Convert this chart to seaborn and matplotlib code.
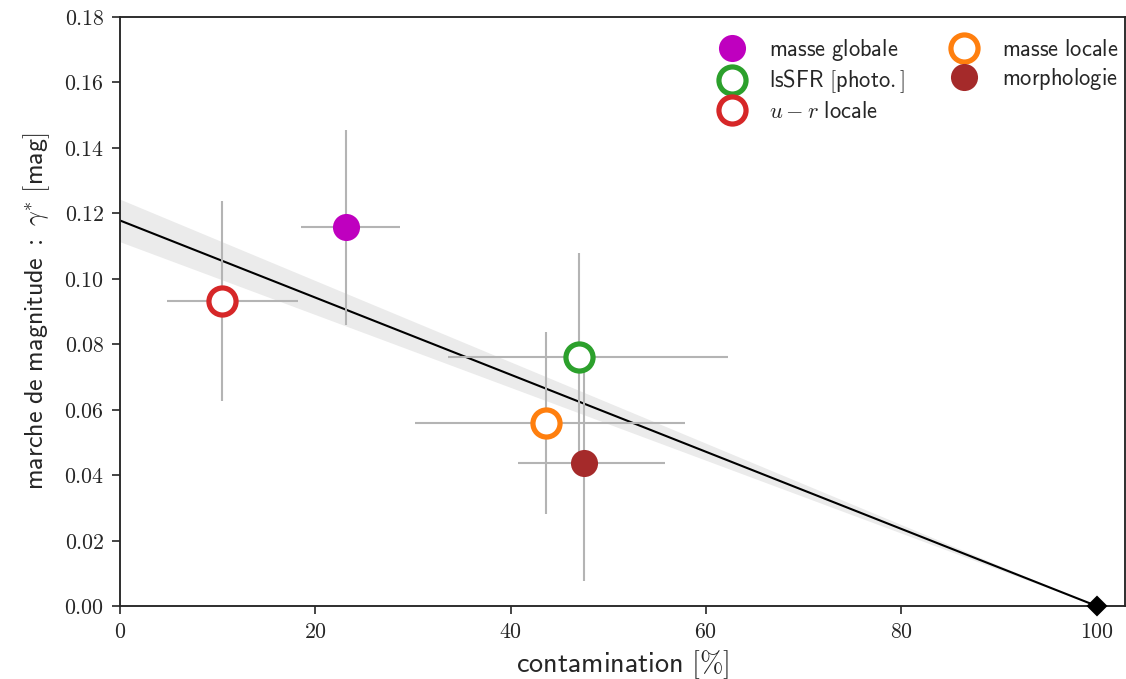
import numpy as np
import pandas as pd
import matplotlib
matplotlib.use("Agg")
import matplotlib.pyplot as plt
from matplotlib.ticker import FuncFormatter, MultipleLocator
import seaborn as sns

# ---- data ----
labels = ["masse globale", "lsSFR [photo.]", "$u - r$ locale", "masse locale", "morphologie"]
contamination = [23.1, 47.0, 10.4, 43.6, 47.5]          # x  [%]
xerr_low = [4.6, 13.4, 5.6, 13.4, 6.7]
xerr_high = [5.6, 15.3, 7.8, 14.2, 8.3]
gamma = [0.1157, 0.0761, 0.0932, 0.0559, 0.0437]         # y  [mag]
yerr = [0.0297, 0.0318, 0.0305, 0.0278, 0.0360]
colors = ["#bf00bf", "#2ca02c", "#d62728", "#ff7f0e", "#a52a2a"]
filled = [True, False, False, False, True]
anchor_x, anchor_y = [100.0], [0.0]                      # 100 % contamination -> no step
fit_err_at_zero = 0.0065                                 # half-width of the band at x = 0

sns.set_style("ticks")
plt.rcParams["mathtext.fontset"] = "cm"
plt.rcParams["font.family"] = ["DejaVu Sans"]

fig = plt.figure(figsize=(1126 / 150, 679 / 150), dpi=150)
ax = fig.add_axes([0.1066, 0.1075, 0.8925, 0.8675])

# regression through (100, 0): y = a (1 - x/100)
x = np.array(contamination)
y = np.array(gamma)
u = 1 - x / anchor_x[0]
a = np.sum(y * u) / np.sum(u * u)
xx = np.linspace(0, anchor_x[0], 200)
uu = 1 - xx / anchor_x[0]
fit = pd.DataFrame({"x": xx, "y": a * uu})
ax.fill_between(xx, (a - fit_err_at_zero) * uu, (a + fit_err_at_zero) * uu,
                color="#ebebeb", lw=0, zorder=1)
sns.lineplot(data=fit, x="x", y="y", color="black", lw=1.0, ax=ax, zorder=2)


def mlabel(lab):
    if "$" in lab:
        return r"$u - r\ \mathsf{locale}$"
    return r"$\mathsf{" + lab.replace(" ", r"\ ") + "}$"


for lab, xi, xl, xh, yi, ye, c, f in zip(labels, contamination, xerr_low, xerr_high,
                                          gamma, yerr, colors, filled):
    ax.errorbar([xi], [yi], xerr=[[xl], [xh]], yerr=[[ye], [ye]], fmt="none",
                ecolor="#b4b4b4", elinewidth=1.0, zorder=3)
    ax.plot([xi], [yi], "o", ms=13, mfc=c if f else "white", mec=c,
            mew=0 if f else 2.5, zorder=4, label=mlabel(lab), linestyle="none")

ax.plot(anchor_x, anchor_y, "D", color="black", ms=6, zorder=5, clip_on=False)

ax.set_xlim(0, 102.9)
ax.set_ylim(0, 0.18)
ax.xaxis.set_major_locator(MultipleLocator(20))
ax.yaxis.set_major_locator(MultipleLocator(0.02))
ax.xaxis.set_major_formatter(FuncFormatter(lambda v, p: f"${v:.0f}$"))
ax.yaxis.set_major_formatter(FuncFormatter(lambda v, p: f"${v:.2f}$"))
ax.tick_params(labelsize=10.5, direction="out", length=4, width=0.8)
for s in ax.spines.values():
    s.set_linewidth(0.9)

ax.set_xlabel(r"$\mathsf{contamination\ [\%]}$", fontsize=13.5, labelpad=3)
ax.set_ylabel(r"$\mathsf{marche\ de\ magnitude\ :\ }\gamma^{*}\ \mathsf{[mag]}$",
              fontsize=12.5, labelpad=6)

leg = ax.legend(ncol=2, loc="upper right", bbox_to_anchor=(1.002, 0.982),
                frameon=False, fontsize=10.8,
                handlelength=1.5, handletextpad=0.9, columnspacing=1.9,
                labelspacing=0.22, borderaxespad=0.0)

fig.savefig("out.png", dpi=150)
